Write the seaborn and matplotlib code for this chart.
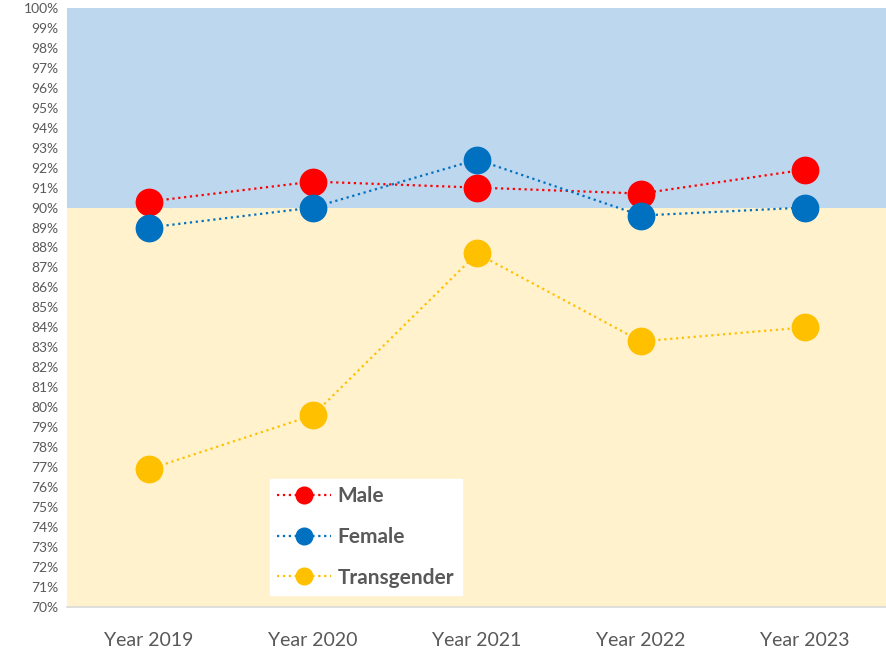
import pandas as pd
import seaborn as sns
import matplotlib.pyplot as plt
from matplotlib.ticker import FixedLocator

years = ["Year 2019", "Year 2020", "Year 2021", "Year 2022", "Year 2023"]
male = [90.3, 91.3, 91.0, 90.7, 91.9]
female = [89.0, 90.0, 92.4, 89.6, 90.0]
transgender = [76.9, 79.6, 87.7, 83.3, 84.0]

series = {"Male": male, "Female": female, "Transgender": transgender}
colors = {"Male": "#FF0000", "Female": "#0070C0", "Transgender": "#FFC000"}

rows = []
for name, vals in series.items():
    for i, v in enumerate(vals):
        rows.append({"pos": i, "year": years[i], "value": v, "group": name})
df = pd.DataFrame(rows)

sns.set_theme(style="white")
plt.rcParams["font.family"] = ["Lato", "DejaVu Sans"]

fig = plt.figure(figsize=(8.87, 6.52), dpi=100)
ax = fig.add_axes([0.0755, 0.069, 0.9245, 0.919])

ax.axhspan(90, 100, color="#BDD7EE", zorder=0, lw=0)
ax.axhspan(70, 90, color="#FFF2CC", zorder=0, lw=0)

for name in series:
    sub = df[df["group"] == name]
    sns.lineplot(
        data=sub, x="pos", y="value", ax=ax,
        color=colors[name], linestyle=":", linewidth=1.6,
        marker="o", markersize=20, markeredgewidth=0,
        label=name, zorder=3,
    )

ax.set_xlim(-0.5, 4.5)
ax.set_ylim(70, 100)
ax.set_xticks(range(len(years)))
ax.set_xticklabels(years, fontsize=14, color="#595959")
ax.yaxis.set_major_locator(FixedLocator(range(70, 101)))
ax.set_yticklabels([f"{v}%" for v in range(70, 101)], fontsize=10, color="#595959")
ax.tick_params(axis="both", length=0)
ax.tick_params(axis="x", pad=18)
ax.tick_params(axis="y", pad=6)
ax.set_xlabel("")
ax.set_ylabel("")

for s in ["top", "left", "right"]:
    ax.spines[s].set_visible(False)
ax.spines["bottom"].set_color("#D9D9D9")
ax.spines["bottom"].set_linewidth(1.2)

leg = ax.legend(
    loc="lower left", bbox_to_anchor=(0.2476, 0.02),
    frameon=True, fancybox=False, framealpha=1, edgecolor="white",
    markerscale=0.65, handlelength=2.6, handletextpad=0.3,
    labelspacing=1.0, borderpad=0.35, borderaxespad=0,
    prop={"size": 15, "weight": "bold"},
)
leg.get_frame().set_facecolor("white")
for t in leg.get_texts():
    t.set_color("#595959")

fig.savefig("out.png", dpi=100)
